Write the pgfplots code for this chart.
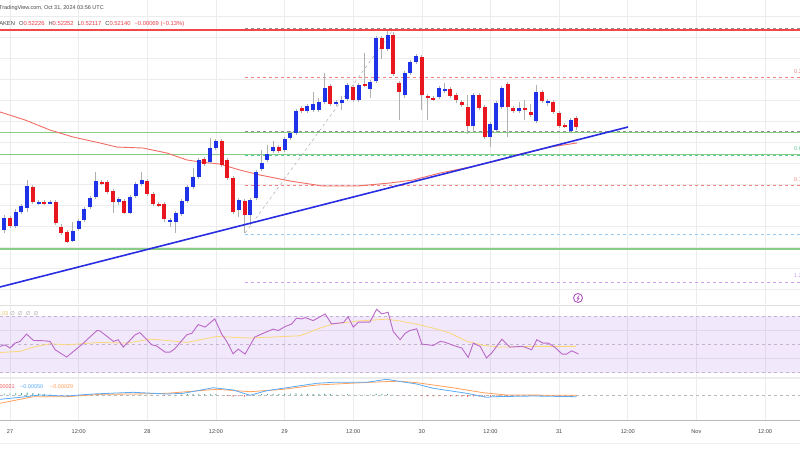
\documentclass[border=0pt]{standalone}
\usepackage{pgfplots}
\pgfplotsset{compat=1.18}
\usepackage{pgfplotstable}
\usepackage{fontspec}
\setmainfont{Liberation Sans}
\newfontfamily\dejavu{DejaVu Sans}
\definecolor{gridc}{RGB}{236,236,236}
\definecolor{bull}{RGB}{30,50,232}
\definecolor{bear}{RGB}{232,22,30}
\definecolor{wick}{RGB}{175,175,175}
\definecolor{resred}{RGB}{240,72,72}
\definecolor{supgreen}{RGB}{135,205,135}
\definecolor{trend}{RGB}{40,45,225}
\definecolor{maline}{RGB}{242,110,100}
\definecolor{fibred}{RGB}{240,130,130}
\definecolor{fibgray}{RGB}{140,140,140}
\definecolor{fibgreen}{RGB}{90,200,150}
\definecolor{fibblue}{RGB}{150,200,240}
\definecolor{fibpurple}{RGB}{205,160,235}
\definecolor{rsiline}{RGB}{186,104,200}
\definecolor{rsima}{RGB}{250,215,120}
\definecolor{rsibandc}{RGB}{156,80,230}
\definecolor{rsidash}{RGB}{195,180,210}
\definecolor{macdc}{RGB}{90,170,245}
\definecolor{sigc}{RGB}{255,160,90}
\definecolor{histpos}{RGB}{60,170,150}
\definecolor{histneg}{RGB}{240,90,90}
\definecolor{txt}{RGB}{70,70,70}
\definecolor{valred}{RGB}{235,60,70}
\definecolor{evt}{RGB}{171,71,188}

% bullish candles: hour, open, high, low, close
\pgfplotstableread{
h o hi lo c
-1 0.51162 0.51305 0.51133 0.51276
1 0.51200 0.51362 0.51181 0.51333
2 0.51333 0.51410 0.51314 0.51390
3 0.51371 0.51638 0.51333 0.51581
5 0.51419 0.51448 0.51400 0.51429
7 0.51419 0.51448 0.51410 0.51429
11 0.51057 0.51238 0.51048 0.51152
12 0.51171 0.51267 0.51152 0.51248
13 0.51257 0.51381 0.51238 0.51362
14 0.51381 0.51486 0.51362 0.51467
15 0.51476 0.51714 0.51457 0.51629
19 0.51429 0.51476 0.51400 0.51457
21 0.51324 0.51496 0.51314 0.51476
22 0.51486 0.51619 0.51467 0.51600
23 0.51600 0.51714 0.51581 0.51638
28 0.51248 0.51276 0.51190 0.51257
29 0.51238 0.51343 0.51133 0.51324
30 0.51314 0.51457 0.51295 0.51438
31 0.51438 0.51591 0.51419 0.51572
32 0.51572 0.51752 0.51553 0.51667
33 0.51667 0.51848 0.51648 0.51829
35 0.51810 0.52038 0.51790 0.51943
36 0.51943 0.52029 0.51924 0.52010
40 0.51352 0.51467 0.51286 0.51448
42 0.51305 0.51467 0.51210 0.51448
43 0.51467 0.51733 0.51448 0.51714
44 0.51743 0.51924 0.51724 0.51800
45 0.51829 0.51972 0.51810 0.51886
46 0.51914 0.52010 0.51895 0.51952
48 0.51924 0.52048 0.51905 0.52029
49 0.52038 0.52105 0.52019 0.52086
50 0.52086 0.52314 0.52067 0.52295
52 0.52295 0.52362 0.52276 0.52343
53 0.52305 0.52476 0.52286 0.52362
54 0.52305 0.52419 0.52286 0.52381
55 0.52381 0.52657 0.52362 0.52514
57 0.52362 0.52400 0.52343 0.52381
58 0.52371 0.52438 0.52305 0.52400
59 0.52410 0.52562 0.52390 0.52543
61 0.52400 0.52562 0.52381 0.52543
63 0.52505 0.52590 0.52419 0.52571
64 0.52581 0.53009 0.52562 0.52990
66 0.52886 0.53057 0.52866 0.53019
69 0.52448 0.52676 0.52419 0.52657
70 0.52657 0.52781 0.52638 0.52762
71 0.52762 0.52838 0.52743 0.52819
75 0.52429 0.52533 0.52410 0.52514
76 0.52486 0.52562 0.52467 0.52505
81 0.52153 0.52467 0.52095 0.52448
84 0.52048 0.52190 0.51952 0.52172
85 0.52114 0.52390 0.52095 0.52371
86 0.52333 0.52533 0.52314 0.52514
89 0.52295 0.52381 0.52276 0.52324
92 0.52200 0.52543 0.52181 0.52476
94 0.52371 0.52410 0.52343 0.52390
98 0.52105 0.52229 0.52086 0.52210
}\bullc

% bearish candles: hour, open, high, low, close
\pgfplotstableread{
h o hi lo c
0 0.51276 0.51295 0.51181 0.51200
4 0.51572 0.51591 0.51410 0.51429
6 0.51429 0.51448 0.51400 0.51419
8 0.51429 0.51448 0.51210 0.51229
9 0.51190 0.51219 0.51114 0.51133
10 0.51143 0.51162 0.51038 0.51048
16 0.51619 0.51638 0.51591 0.51610
17 0.51619 0.51638 0.51505 0.51524
18 0.51534 0.51553 0.51324 0.51429
20 0.51438 0.51457 0.51314 0.51324
24 0.51629 0.51648 0.51486 0.51505
25 0.51505 0.51524 0.51390 0.51410
26 0.51410 0.51429 0.51381 0.51400
27 0.51410 0.51429 0.51238 0.51267
34 0.51838 0.51857 0.51771 0.51790
37 0.52010 0.52029 0.51762 0.51781
38 0.51829 0.51848 0.51638 0.51657
39 0.51657 0.51676 0.51314 0.51333
41 0.51438 0.51457 0.51133 0.51305
47 0.51952 0.51972 0.51895 0.51914
51 0.52324 0.52343 0.52276 0.52295
56 0.52533 0.52552 0.52343 0.52362
60 0.52524 0.52543 0.52381 0.52400
62 0.52552 0.52848 0.52524 0.52543
65 0.52990 0.53009 0.52790 0.52886
67 0.53019 0.53047 0.52629 0.52648
68 0.52562 0.52581 0.52210 0.52476
72 0.52809 0.52828 0.52305 0.52448
73 0.52438 0.52457 0.52210 0.52429
74 0.52419 0.52438 0.52390 0.52410
77 0.52505 0.52524 0.52419 0.52438
78 0.52448 0.52467 0.52371 0.52400
79 0.52381 0.52400 0.52333 0.52352
80 0.52333 0.52448 0.52076 0.52153
82 0.52448 0.52467 0.52305 0.52324
83 0.52333 0.52352 0.52029 0.52048
87 0.52552 0.52571 0.52048 0.52333
88 0.52324 0.52343 0.52276 0.52295
90 0.52324 0.52400 0.52210 0.52314
91 0.52286 0.52362 0.52238 0.52257
93 0.52476 0.52495 0.52371 0.52390
95 0.52381 0.52400 0.52267 0.52286
96 0.52276 0.52295 0.52134 0.52153
97 0.52162 0.52181 0.52134 0.52153
99 0.52226 0.52252 0.52117 0.52140
}\bearc

\pgfplotsset{
  pane/.style={scale only axis, width=800pt, xmin=-1.75, xmax=138.11,
    axis line style={draw=none}, tick style={draw=none}, major tick length=0pt,
    xtick={0,12,24,36,48,60,72,84,96,108,120,132}, xticklabels={}, yticklabels={},
    grid=major, major grid style={draw=gridc, line width=0.6pt}, anchor=north west},
  wicks/.style={draw=none, mark=none, forget plot, error bars/.cd, y dir=both, y explicit, error mark=none,
    error bar style={draw=wick, solid, line width=0.9pt}},
  bodies/.style={draw=none, mark=none, forget plot, error bars/.cd, y dir=both, y explicit, error mark=none,
    error bar style={draw=#1, solid, line width=4pt}},
}

\begin{document}
\begin{tikzpicture}
\path[use as bounding box] (0pt,0pt) rectangle (800pt,-450pt);
\fill[white] (0pt,0pt) rectangle (800pt,-450pt);

% ---------- price pane ----------
\begin{axis}[pane, at={(0pt,0pt)}, height=304pt, ymin=0.50458, ymax=0.53352,
  ytick={0.506,0.508,0.510,0.512,0.514,0.516,0.518,0.520,0.522,0.524,0.526,0.528,0.530,0.532}]
\addplot[resred, line width=1.1pt] coordinates {(-1.75,0.53066) (138.11,0.53066)};
\addplot[fibgray, dashed, line width=0.6pt] coordinates {(41.1,0.53080) (138.11,0.53080)};
\addplot[fibred, dashed, line width=0.6pt] coordinates {(41.1,0.52619) (138.11,0.52619)};
\addplot[supgreen, line width=1.6pt] coordinates {(-1.75,0.52089) (138.11,0.52089)};
\addplot[fibgray, dashed, line width=0.6pt] coordinates {(41.1,0.52105) (138.11,0.52105)};
\addplot[supgreen, line width=1.6pt] coordinates {(-1.75,0.51881) (138.11,0.51881)};
\addplot[fibgreen, dashed, line width=0.6pt] coordinates {(41.1,0.51876) (138.11,0.51876)};
\addplot[fibred, dashed, line width=0.6pt] coordinates {(41.1,0.51591) (138.11,0.51591)};
\addplot[fibblue, dashed, line width=0.6pt] coordinates {(41.1,0.51124) (138.11,0.51124)};
\addplot[supgreen, line width=1.6pt] coordinates {(-1.75,0.50981) (138.11,0.50981)};
\addplot[fibpurple, dashed, line width=0.7pt] coordinates {(41.1,0.50667) (138.11,0.50667)};
\addplot[fibgray!70, dashed, line width=0.5pt] coordinates {(41.1,0.51133) (66.8,0.53057)};
\addplot[maline, line width=0.9pt] coordinates {
(-1.75,0.52286) (2.62,0.52210) (6.99,0.52114) (11.01,0.52048) (15.73,0.51991)
(18.71,0.51952) (23.25,0.51943) (27.45,0.51895) (30.94,0.51829) (33.22,0.51810)
(36.71,0.51790) (40.21,0.51733) (43.71,0.51686) (47.20,0.51648) (48.95,0.51629)
(54.72,0.51581) (60.66,0.51581) (66.43,0.51610) (70.45,0.51638) (75.17,0.51705)
(80.42,0.51762) (85.66,0.51829) (89.16,0.51886) (94.41,0.51952) (99.13,0.51991)};
% wicks
\addplot[wicks] table[x=h, y expr={(\thisrow{hi}+\thisrow{lo})/2}, y error expr={(\thisrow{hi}-\thisrow{lo})/2}] {\bullc};
\addplot[wicks] table[x=h, y expr={(\thisrow{hi}+\thisrow{lo})/2}, y error expr={(\thisrow{hi}-\thisrow{lo})/2}] {\bearc};
% bodies
\addplot[bodies=bull] table[x=h, y expr={(\thisrow{o}+\thisrow{c})/2}, y error expr={(\thisrow{c}-\thisrow{o})/2}] {\bullc};
\addplot[bodies=bear] table[x=h, y expr={(\thisrow{o}+\thisrow{c})/2}, y error expr={(\thisrow{o}-\thisrow{c})/2}] {\bearc};
\addplot[trend, line width=1.6pt] coordinates {(-1.75,0.50620) (108.04,0.52143)};
\end{axis}

% ---------- RSI pane ----------
\begin{axis}[pane, at={(0pt,-305pt)}, height=73pt, ymin=26.2, ymax=77.7, ytick={40,60}]
\fill[rsibandc, fill opacity=0.13] (axis cs:-1.75,30) rectangle (axis cs:138.11,70);
\addplot[rsidash, dashed, line width=0.5pt] coordinates {(-1.75,70) (138.11,70)};
\addplot[rsidash, dashed, line width=0.5pt] coordinates {(-1.75,50) (138.11,50)};
\addplot[rsidash, dashed, line width=0.5pt] coordinates {(-1.75,30) (138.11,30)};
\addplot[rsima, line width=0.8pt] coordinates {
(-1.75,44.2) (1.75,45.0) (4.1,48.0) (7.0,50.4) (9.9,49.6) (15.7,51.3) (20.4,50.8)
(24.5,53.6) (27.4,52.7) (30.9,51.3) (36.1,55.5) (41.9,54.4) (50.7,56.0) (54.2,61.4)
(56.5,64.4) (61.2,66.5) (65.8,67.7) (68.2,66.4) (71.1,64.2) (74.0,61.4) (77.0,57.8)
(79.9,52.0) (82.8,49.2) (85.7,48.0) (91.5,48.5) (99.0,48.5)};
\addplot[rsiline, line width=0.9pt] coordinates {
(-1.75,48.5) (-0.87,49.6) (0,47.3) (0.87,50.8) (1.75,52.0) (2.9,57.2) (4.1,52.7)
(5.8,52.5) (7.0,52.0) (7.9,46.1) (9.9,41.0) (12.5,49.6) (15.2,59.7) (15.7,59.5)
(18.1,52.0) (18.9,53.2) (19.8,48.0) (21.9,56.7) (22.7,58.3) (24.8,49.6) (25.6,48.9)
(27.1,44.5) (28.0,44.5) (28.8,46.8) (30.9,56.7) (31.8,57.8) (32.9,63.9) (34.1,62.1)
(35.8,67.9) (37.0,57.2) (37.9,52.0) (39.0,43.3) (39.9,46.6) (41.1,43.1) (42.8,55.1)
(44.3,57.8) (46.0,60.7) (46.9,59.7) (48.1,62.5) (49.2,64.2) (50.1,68.4) (51.0,67.9)
(51.6,68.8) (53.0,66.7) (55.1,71.4) (56.2,64.4) (58.3,65.3) (59.1,69.5) (60.0,62.1)
(60.9,65.6) (62.9,65.6) (64.1,74.7) (65.0,71.4) (66.1,72.6) (67.0,59.0) (68.2,53.2)
(69.1,57.8) (69.9,59.7) (71.1,60.9) (72.0,50.1) (74.0,49.2) (75.2,52.0) (76.0,51.5)
(77.5,49.2) (79.0,47.3) (80.1,40.7) (81.0,50.8) (82.2,48.5) (83.3,40.3) (84.2,43.8)
(86.0,53.6) (87.4,48.0) (89.5,48.5) (90.0,48.0) (91.2,46.1) (92.1,53.2) (93.2,50.8)
(94.1,50.8) (95.3,47.8) (96.5,43.1) (97.3,43.1) (98.2,45.4) (99.4,43.1)};
\end{axis}

% ---------- MACD pane ----------
\begin{axis}[pane, at={(0pt,-378pt)}, height=42pt, ymin=-0.0075, ymax=0.0051, ytick=\empty,
  xticklabels={27,12:00,28,12:00,29,12:00,30,12:00,31,12:00,Nov,12:00},
  xticklabel style={font=\fontsize{5.6}{6}\selectfont, text=txt, anchor=base, yshift=-13pt}]
\addplot[gray!55, dashed, line width=0.5pt] coordinates {(-1.75,0) (138.11,0)};
\addplot[ybar, bar width=0.9pt, bar shift=0pt, fill=histpos, draw=none] coordinates {
(-1,0.00045) (0,0.00045) (1,0.0006) (2,0.0006) (3,0.00075) (4,0.0006) (5,0.00045) (6,0.0003)
(7,0.00015) (12,0.00006) (13,0.00015) (14,0.00024) (15,0.0003) (16,0.00024) (17,0.00015)
(18,0.0001) (19,0.00006) (20,0.00006) (21,0.0001) (22,0.00015) (23,0.00015) (24,0.00006)
(29,0.00006) (30,0.00015) (31,0.00024) (32,0.0003) (33,0.00036) (34,0.0003) (35,0.00036)
(36,0.00024) (43,0.0001) (44,0.00024) (45,0.0003) (46,0.00036) (47,0.0003) (48,0.00036)
(49,0.00045) (50,0.0006) (51,0.00045) (52,0.00036) (53,0.0003) (54,0.0003) (55,0.00036)
(56,0.00024) (57,0.00015) (58,0.00015) (59,0.00024) (60,0.00015) (61,0.00015) (62,0.00015)
(63,0.00015) (64,0.00045) (65,0.00036) (66,0.00036) (67,0.0001)};
\addplot[ybar, bar width=0.9pt, bar shift=0pt, fill=histneg, draw=none] coordinates {
(8,-0.0001) (9,-0.00015) (10,-0.00015) (11,-0.0001) (25,-0.00006) (26,-0.0001) (27,-0.00015)
(28,-0.0001) (37,-0.00006) (38,-0.00024) (39,-0.00045) (40,-0.00036) (41,-0.00045) (42,-0.00024)
(68,-0.00015) (69,-0.0001) (70,-0.00006) (71,-0.00006) (72,-0.0003) (73,-0.00036) (74,-0.0004)
(75,-0.00036) (76,-0.00036) (77,-0.0004) (78,-0.00042) (79,-0.00045) (80,-0.00054) (81,-0.00042)
(82,-0.00045) (83,-0.00054) (84,-0.00045) (85,-0.0003) (86,-0.00018) (87,-0.00024) (88,-0.00021)
(89,-0.00015) (90,-0.00012) (91,-0.00012) (94,-0.00003) (95,-0.0001) (96,-0.00015) (97,-0.00018)
(98,-0.00015) (99,-0.00021)};
\addplot[sigc, line width=0.8pt] coordinates {
(-1.75,-0.00249) (4.07,-0.00051) (9.91,-0.00051) (15.73,0.00021) (21.56,0.00030)
(27.40,0.00051) (36.14,0.00171) (41.96,0.00099) (47.78,0.00171) (53.62,0.00300)
(59.44,0.00351) (65.26,0.00399) (68.18,0.00414) (71.10,0.00369) (76.92,0.00231)
(82.74,0.00069) (86.84,0.0) (99.07,-0.00009)};
\addplot[macdc, line width=0.8pt] coordinates {
(-1.75,-0.00129) (1.75,-0.00069) (5.24,0.0) (9.91,-0.00030) (14.56,0.00030)
(21.56,0.00081) (27.40,0.00030) (30.30,0.00051) (35.54,0.00219) (39.04,0.00150)
(41.96,-0.00009) (44.88,0.00129) (49.53,0.00249) (53.62,0.00351) (56.52,0.00381)
(62.36,0.00381) (65.86,0.00471) (68.18,0.00405) (71.10,0.00330) (74.00,0.00201)
(79.84,0.00051) (83.34,-0.00069) (84.49,-0.00051) (91.49,-0.00030) (99.07,-0.00051)};
\end{axis}

% separators
\draw[gray!25, line width=0.5pt] (0pt,-305pt) -- (800pt,-305pt);
\draw[gray!15, line width=1.6pt] (0pt,-378pt) -- (800pt,-378pt);
\draw[gray!55, line width=0.8pt] (0pt,-420pt) -- (800pt,-420pt);
\draw[gray!12, line width=0.6pt] (0pt,-443pt) -- (800pt,-443pt);

% header
\node[anchor=base west, inner sep=0pt, font=\fontsize{5.5}{6}\selectfont, text=txt] at (-1pt,-9pt)
  {TradingView.com, Oct 31, 2024 03:56 UTC};
\node[anchor=base west, inner sep=0pt, font=\fontsize{5.8}{6}\selectfont, text=txt] at (-9pt,-25pt)
  {KRAKEN\hspace{4pt}O\textcolor{valred}{0.52226}\hspace{4pt}H\textcolor{valred}{0.52252}\hspace{4pt}L\textcolor{valred}{0.52117}\hspace{4pt}C\textcolor{valred}{0.52140}\hspace{4pt}\textcolor{valred}{−0.00069 (−0.13\%)}};

% fib labels at right edge
\node[anchor=base west, inner sep=0pt, font=\fontsize{5.5}{6}\selectfont, text=fibred] at (794pt,-73pt) {0.236};
\node[anchor=base west, inner sep=0pt, font=\fontsize{5.5}{6}\selectfont, text=fibgreen] at (794pt,-150pt) {0.618};
\node[anchor=base west, inner sep=0pt, font=\fontsize{5.5}{6}\selectfont, text=fibred] at (794pt,-181pt) {0.786};
\node[anchor=base west, inner sep=0pt, font=\fontsize{5.5}{6}\selectfont, text=fibpurple] at (794pt,-277pt) {1.236};

% event icon
\node[circle, draw=evt, line width=0.8pt, inner sep=0pt, minimum size=9pt] (ev) at (578pt,-298pt) {};
\draw[evt, line width=0.6pt] (ev.center) ++(1.2pt,2.6pt) -- ++(-2.0pt,-2.8pt) -- ++(1.8pt,0pt) -- ++(-2.0pt,-2.8pt);

% RSI header
\node[anchor=base east, inner sep=0pt, font=\fontsize{5.5}{6}\selectfont, text=rsima!90!black] at (8.5pt,-315pt) {48.03};
\node[anchor=base west, inner sep=0pt, font=\dejavu\fontsize{5.5}{6}\selectfont, text=gray!80] at (10pt,-315pt) {∅\hspace{3pt}∅\hspace{3pt}∅\hspace{3pt}∅};

% MACD header
\node[anchor=base east, inner sep=0pt, font=\fontsize{5.5}{6}\selectfont, text=histneg] at (15pt,-388pt) {−0.00021};
\node[anchor=base west, inner sep=0pt, font=\fontsize{5.5}{6}\selectfont, text=macdc] at (20pt,-388pt) {−0.00050};
\node[anchor=base west, inner sep=0pt, font=\fontsize{5.5}{6}\selectfont, text=sigc] at (50pt,-388pt) {−0.00029};
\end{tikzpicture}
\end{document}
